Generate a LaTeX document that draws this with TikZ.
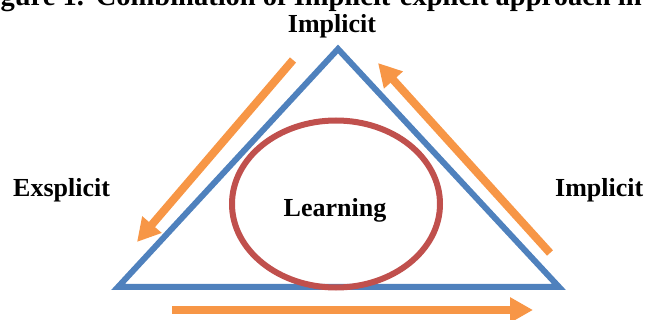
\documentclass[tikz,border=0pt]{standalone}
\usepackage{fontspec}
\setmainfont{Liberation Serif}
\usetikzlibrary{arrows.meta,shapes.geometric}
\definecolor{triblue}{HTML}{4F81BD}
\definecolor{ellred}{HTML}{C0504D}
\definecolor{arrorange}{HTML}{F79646}
\begin{document}
\begin{tikzpicture}[x=1pt,y=-1pt,
  txt/.style={font=\fontsize{26}{30}\selectfont\bfseries, inner sep=0pt, text=black},
  captxt/.style={font=\fontsize{28.5}{32}\selectfont\bfseries, inner sep=0pt, text=black},
  flow/.style={draw=arrorange, line width=8pt, -{Triangle[length=23pt,width=24pt,fill=arrorange]}},
  tri/.style={draw=triblue, line width=6pt, miter limit=10},
  ring/.style={ellipse, draw=ellred, line width=6pt, minimum width=208pt, minimum height=167pt, inner sep=0pt}]
\useasboundingbox (0,0) rectangle (645,320);
\clip (0,0) rectangle (645,320);
% caption (cut off at the top in the reference)
\node[captxt, anchor=base west] (cap) at (-25,6) {Figure 1.\hspace{12pt}Combination of Implicit-explicit approach in};
% triangle
\coordinate (apex) at (338,49);
\coordinate (bl) at (118,287);
\coordinate (br) at (559,287);
\draw[tri] (apex) -- (bl) -- (br) -- cycle;
% ellipse
\node[ring] (ring) at (336,204) {};
% labels
\node[txt, anchor=base] (top) at (332,33) {Implicit};
\node[txt, anchor=base west] (left) at (13,197) {Exsplicit};
\node[txt, anchor=base west] (right) at (555,197) {Implicit};
\node[txt, anchor=base] (learn) at (335,217) {Learning};
% arrows
\coordinate (l1) at (293,60);
\coordinate (l2) at (137,242);
\coordinate (r1) at (550,253);
\coordinate (r2) at (378,63);
\coordinate (b1) at (172,310);
\coordinate (b2) at (533,310);
\draw[flow] (l1) -- (l2);
\draw[flow] (r1) -- (r2);
\draw[flow] (b1) -- (b2);
\end{tikzpicture}
\end{document}
